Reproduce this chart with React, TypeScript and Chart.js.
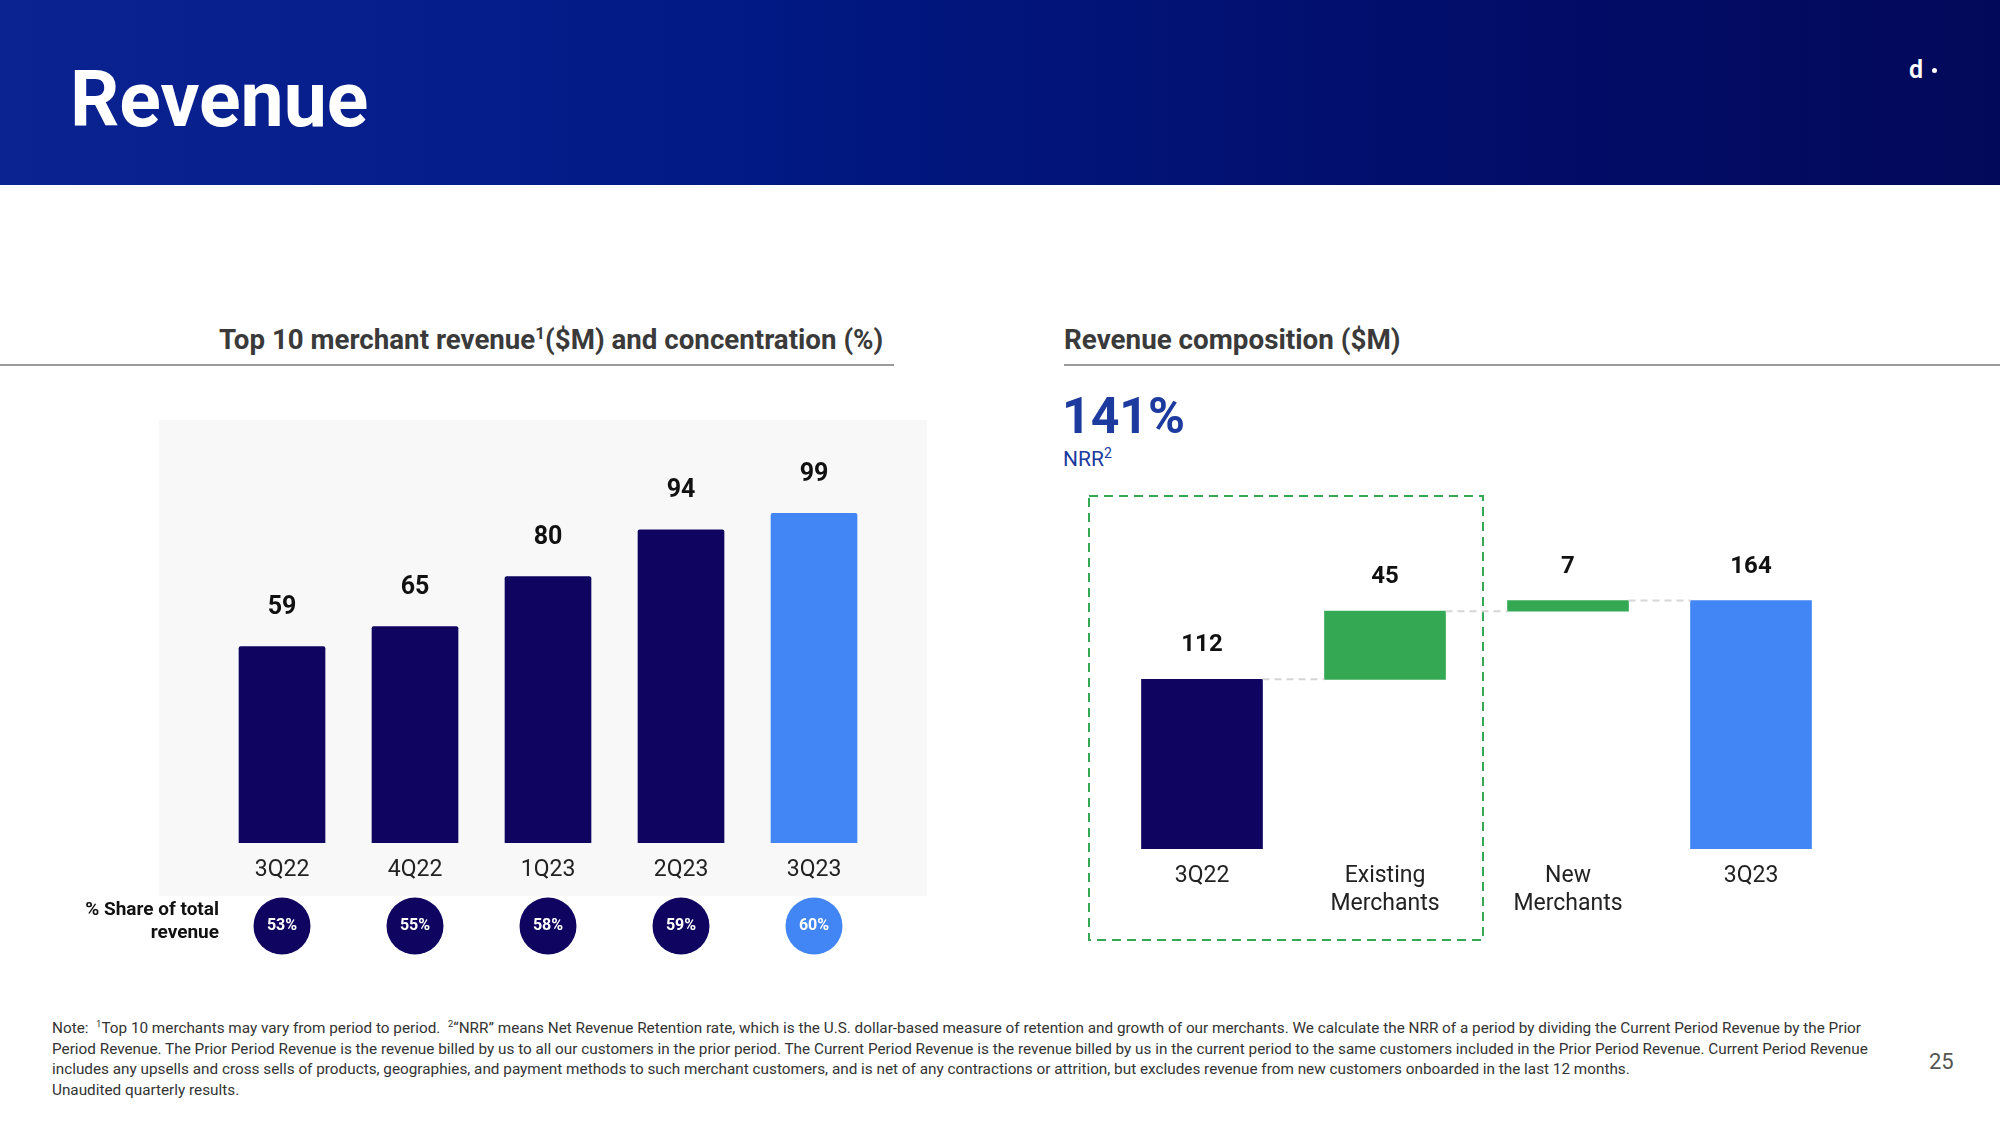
import React, { useEffect, useRef } from "react";
import { Chart, registerables } from "chart.js";

Chart.register(...registerables);

// ---------- Data ----------
const quarters = ["3Q22", "4Q22", "1Q23", "2Q23", "3Q23"];
const top10Revenue = [59, 65, 80, 94, 99];
const shareOfTotal = [53, 55, 58, 59, 60];

const waterfallLabels = [["3Q22"], ["Existing", "Merchants"], ["New", "Merchants"], ["3Q23"]];
const waterfallValues = [112, 45, 7, 164];
const waterfallKinds = ["total", "delta", "delta", "total"];

const nrrValue = "141%";

// ---------- Colors ----------
const NAVY = "#0f0560";
const LIGHT_BLUE = "#4285f4";
const GREEN = "#34a853";
const FONT = "Roboto, 'Noto Sans', sans-serif";

const barColors = quarters.map((_, i) => (i === quarters.length - 1 ? LIGHT_BLUE : NAVY));

// build floating bars for waterfall
const waterfallFloating: [number, number][] = [];
{
  let running = 0;
  waterfallValues.forEach((v, i) => {
    if (waterfallKinds[i] === "total") {
      waterfallFloating.push([0, v]);
      running = v;
    } else {
      waterfallFloating.push([running, running + v]);
      running += v;
    }
  });
}
const waterfallColors = waterfallKinds.map((k, i) =>
  k === "delta" ? GREEN : i === 0 ? NAVY : LIGHT_BLUE
);

function LeftChart() {
  const ref = useRef<HTMLCanvasElement | null>(null);
  useEffect(() => {
    if (!ref.current) return;
    const decor = {
      id: "leftDecor",
      afterDatasetsDraw(chart: any) {
        const ctx = chart.ctx;
        const meta = chart.getDatasetMeta(0);
        const bottom = chart.chartArea.bottom;
        ctx.save();
        ctx.textAlign = "center";
        ctx.textBaseline = "middle";
        meta.data.forEach((bar: any, i: number) => {
          const x = bar.x;
          ctx.fillStyle = "#111";
          ctx.font = `bold 25px ${FONT}`;
          ctx.fillText(String(top10Revenue[i]), x, bar.y - 39);
          ctx.fillStyle = "#222";
          ctx.font = `23px ${FONT}`;
          ctx.fillText(quarters[i], x, bottom + 27);
          ctx.beginPath();
          ctx.arc(x, bottom + 83, 28.5, 0, Math.PI * 2);
          ctx.fillStyle = barColors[i];
          ctx.fill();
          ctx.fillStyle = "#fff";
          ctx.font = `bold 16px ${FONT}`;
          ctx.fillText(`${shareOfTotal[i]}%`, x, bottom + 83);
        });
        ctx.restore();
      },
    };
    const chart = new Chart(ref.current, {
      type: "bar",
      data: {
        labels: quarters,
        datasets: [
          {
            data: top10Revenue,
            backgroundColor: barColors,
            barThickness: 86,
            borderRadius: 2,
            borderSkipped: "bottom",
          },
        ],
      },
      options: {
        responsive: false,
        animation: false,
        layout: { padding: { left: 58.5, right: 46.5, top: 0, bottom: 117 } },
        plugins: { legend: { display: false }, tooltip: { enabled: false } },
        scales: {
          x: { display: false },
          y: { display: false, min: 0, max: 127 },
        },
      },
      plugins: [decor],
    });
    return () => chart.destroy();
  }, []);
  return (
    <canvas
      ref={ref}
      width={770}
      height={540}
      style={{ position: "absolute", left: 157, top: 420, width: 770, height: 540 }}
    />
  );
}

function RightChart() {
  const ref = useRef<HTMLCanvasElement | null>(null);
  useEffect(() => {
    if (!ref.current) return;
    const decor = {
      id: "waterfallDecor",
      afterDatasetsDraw(chart: any) {
        const ctx = chart.ctx;
        const meta = chart.getDatasetMeta(0);
        const yScale = chart.scales.y;
        const bottom = chart.chartArea.bottom;
        ctx.save();
        // connectors
        ctx.strokeStyle = "#d6d6d6";
        ctx.lineWidth = 2;
        ctx.setLineDash([7, 5]);
        for (let i = 0; i < meta.data.length - 1; i++) {
          const a = meta.data[i];
          const b = meta.data[i + 1];
          const level = waterfallFloating[i][1];
          const y = yScale.getPixelForValue(level);
          ctx.beginPath();
          ctx.moveTo(a.x + a.width / 2, y);
          ctx.lineTo(b.x - b.width / 2, y);
          ctx.stroke();
        }
        ctx.setLineDash([]);
        ctx.textAlign = "center";
        ctx.textBaseline = "middle";
        meta.data.forEach((bar: any, i: number) => {
          const top = yScale.getPixelForValue(waterfallFloating[i][1]);
          ctx.fillStyle = "#111";
          ctx.font = `bold 24px ${FONT}`;
          ctx.fillText(String(waterfallValues[i]), bar.x, top - 34);
          ctx.fillStyle = "#222";
          ctx.font = `23px ${FONT}`;
          waterfallLabels[i].forEach((line, j) => {
            ctx.fillText(line, bar.x, bottom + 27 + j * 28);
          });
        });
        ctx.restore();
      },
    };
    const chart = new Chart(ref.current, {
      type: "bar",
      data: {
        labels: waterfallLabels.map((l) => l.join(" ")),
        datasets: [
          {
            data: waterfallFloating as any,
            backgroundColor: waterfallColors,
            barThickness: 121,
            borderSkipped: false,
          },
        ],
      },
      options: {
        responsive: false,
        animation: false,
        layout: { padding: { left: 10.5, right: 57.5, top: 0, bottom: 91 } },
        plugins: { legend: { display: false }, tooltip: { enabled: false } },
        scales: {
          x: { display: false },
          y: { display: false, min: 0, max: 204 },
        },
      },
      plugins: [decor],
    });
    return () => chart.destroy();
  }, []);
  return (
    <canvas
      ref={ref}
      width={800}
      height={400}
      style={{ position: "absolute", left: 1100, top: 540, width: 800, height: 400 }}
    />
  );
}

const txt = (left: number, cy: number, size: number, extra: React.CSSProperties = {}): React.CSSProperties => ({
  position: "absolute",
  left,
  top: cy,
  transform: "translateY(-50%)",
  fontSize: size,
  lineHeight: `${size}px`,
  whiteSpace: "nowrap",
  ...extra,
});

export default function App() {
  return (
    <div
      style={{
        position: "fixed",
        left: 0,
        top: 0,
        width: 2000,
        height: 1125,
        background: "#fff",
        overflow: "hidden",
        fontFamily: FONT,
      }}
    >
      {/* Header */}
      <div
        style={{
          position: "absolute",
          left: 0,
          top: 0,
          width: 2000,
          height: 185,
          background: "linear-gradient(90deg, #0b2391 0%, #011a86 35%, #020e6c 70%, #03095a 100%)",
        }}
      />
      <div style={txt(70, 100, 77, { color: "#fff", fontWeight: 700 })}>Revenue</div>
      <div style={txt(1909, 69, 25, { color: "#fff", fontWeight: 600 })}>d</div>
      <div style={{ position: "absolute", left: 1932, top: 68, width: 5, height: 5, borderRadius: 3, background: "#fff" }} />

      {/* Left panel */}
      <div style={txt(219, 340, 27.7, { color: "#3a3a3a", fontWeight: 700 })}>
        Top 10 merchant revenue<sup style={{ fontSize: 17, verticalAlign: "top", position: "relative", top: -6 }}>1</sup>($M) and concentration (%)
      </div>
      <div style={{ position: "absolute", left: 0, top: 364, width: 894, height: 2, background: "#9a9a9a" }} />
      <div style={{ position: "absolute", left: 159, top: 420, width: 768, height: 476, background: "#f8f8f8" }} />
      <LeftChart />
      <div
        style={{
          position: "absolute",
          right: 2000 - 219,
          top: 897,
          textAlign: "right",
          fontSize: 19,
          lineHeight: "23px",
          fontWeight: 700,
          color: "#111",
        }}
      >
        % Share of total
        <br />
        revenue
      </div>

      {/* Right panel */}
      <div style={txt(1064, 340, 27.8, { color: "#3a3a3a", fontWeight: 700 })}>Revenue composition ($M)</div>
      <div style={{ position: "absolute", left: 1064, top: 364, width: 936, height: 2, background: "#9a9a9a" }} />
      <div style={txt(1062, 416, 50, { color: "#1d3a9e", fontWeight: 700 })}>{nrrValue}</div>
      <div style={txt(1063, 459, 21, { color: "#1d3a9e" })}>
        NRR<sup style={{ fontSize: 14, verticalAlign: "top", position: "relative", top: -6 }}>2</sup>
      </div>
      <svg style={{ position: "absolute", left: 1086, top: 493, width: 400, height: 450 }} width={400} height={450}>
        <rect x={3} y={3} width={394} height={444} fill="none" stroke={GREEN} strokeWidth={2} strokeDasharray="9 6" />
      </svg>
      <RightChart />

      {/* Footnote */}
      <div
        style={{
          position: "absolute",
          left: 52,
          top: 1014,
          width: 1900,
          fontSize: 15.3,
          lineHeight: "20.6px",
          color: "#333",
          whiteSpace: "nowrap",
        }}
      >
        Note:&nbsp; <sup style={{ fontSize: 9.5 }}>1</sup>Top 10 merchants may vary from period to period.&nbsp; <sup style={{ fontSize: 9.5 }}>2</sup>“NRR” means Net Revenue Retention rate, which is the U.S. dollar-based measure of retention and growth of our merchants. We calculate the NRR of a period by dividing the Current Period Revenue by the Prior
        <br />
        Period Revenue. The Prior Period Revenue is the revenue billed by us to all our customers in the prior period. The Current Period Revenue is the revenue billed by us in the current period to the same customers included in the Prior Period Revenue. Current Period Revenue
        <br />
        includes any upsells and cross sells of products, geographies, and payment methods to such merchant customers, and is net of any contractions or attrition, but excludes revenue from new customers onboarded in the last 12 months.
        <br />
        Unaudited quarterly results.
      </div>
      <div style={txt(1929, 1062, 22, { color: "#555" })}>25</div>
    </div>
  );
}
